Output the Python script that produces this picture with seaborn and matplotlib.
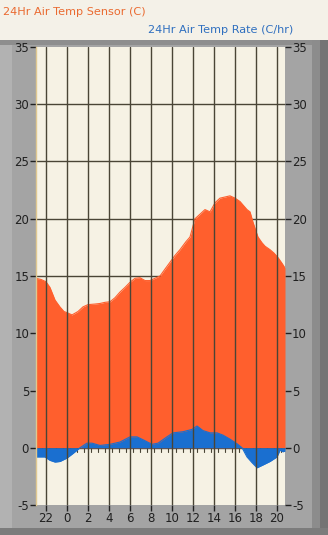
import matplotlib
matplotlib.use("Agg")
import matplotlib.pyplot as plt
import seaborn as sns
import numpy as np
import pandas as pd
from matplotlib.patches import Rectangle

# ---------------- data ----------------
temp_hours = [-2.95, -2.48, -2.0, -1.62, -1.14, -0.67, -0.29, 0.0, 0.48, 1.05, 1.52, 2.0, 2.67,
              3.14, 3.62, 4.1, 4.57, 5.05, 5.52, 6.0, 6.48, 6.95, 7.43, 7.9, 8.38, 8.86, 9.33,
              9.81, 10.29, 10.76, 11.33, 11.71, 12.19, 12.67, 13.14, 13.62, 14.1, 14.57, 15.05,
              15.52, 16.0, 16.48, 16.76, 17.14, 17.43, 17.71, 18.0, 18.19, 18.57, 18.86, 19.33,
              19.71, 20.1, 20.48, 20.76]
temp_values = [14.8, 14.7, 14.5, 14.0, 12.9, 12.3, 11.9, 11.8, 11.6, 11.9, 12.3, 12.5, 12.55,
               12.6, 12.7, 12.75, 13.1, 13.6, 14.0, 14.45, 14.8, 14.85, 14.6, 14.6, 14.8, 15.0, 15.6,
               16.2, 16.8, 17.3, 18.0, 18.4, 20.0, 20.4, 20.8, 20.6, 21.4, 21.8, 21.9,
               22.0, 21.8, 21.5, 21.2, 20.8, 20.6, 19.7, 18.9, 18.4, 17.9, 17.6, 17.3,
               17.0, 16.6, 16.1, 15.7]

rate_hours = [-2.95, -2.1, -1.62, -1.14, -0.67, 0.0, 0.57, 1.24, 1.9, 2.38, 3.14, 4.1, 5.05,
              6.0, 6.67, 7.24, 8.1, 8.67, 9.52, 10.1, 11.05, 11.9, 12.38, 12.95, 13.62, 14.29,
              14.86, 15.52, 16.19, 16.67, 17.14, 17.62, 18.1, 18.67, 19.33, 20.0, 20.29, 20.57, 20.76]
rate_values = [-0.8, -0.8, -1.1, -1.25, -1.2, -0.9, -0.5, 0.0, 0.4, 0.4, 0.2, 0.3, 0.5,
               0.95, 0.95, 0.7, 0.3, 0.4, 0.95, 1.3, 1.4, 1.6, 1.9, 1.5, 1.3, 1.3,
               1.1, 0.75, 0.35, 0.0, -0.8, -1.3, -1.75, -1.5, -1.2, -0.8, -0.2, -0.35, -0.3]

x_tick_pos = [-2, 0, 2, 4, 6, 8, 10, 12, 14, 16, 18, 20]
x_tick_labels = ["22", "0", "2", "4", "6", "8", "10", "12", "14", "16", "18", "20"]
y_ticks = [-5, 0, 5, 10, 15, 20, 25, 30, 35]

title_temp = "24Hr Air Temp Sensor (C)"
title_rate = "24Hr Air Temp Rate (C/hr)"

# ---------------- style ----------------
sns.set_style("white")
plt.rcParams['font.family'] = ['DejaVu Sans']

ORANGE = "#ff5f2d"
BLUE = "#1a6fd0"
CREAM = "#f6f2e4"
GRID = "#4a4536"

W, H = 328, 535
fig = plt.figure(figsize=(W / 100, H / 100), dpi=100)
fig.patch.set_facecolor("#f4f1e8")

# grey panel background
def frect(x0, y0, x1, y1, color):
    fig.patches.append(Rectangle((x0 / W, 1 - y1 / H), (x1 - x0) / W, (y1 - y0) / H,
                                 transform=fig.transFigure, facecolor=color,
                                 edgecolor="none", zorder=-10))

frect(0, 40, 328, 535, "#a4a4a4")
frect(0, 40, 12, 535, "#b2b2b2")
frect(0, 40, 328, 45, "#8e8e8e")
frect(312, 40, 320, 535, "#8c8c8c")
frect(320, 40, 328, 535, "#747474")
frect(0, 528, 328, 535, "#7c7c7c")

ax = fig.add_axes([36 / W, 1 - 505 / H, (285 - 36) / W, (505 - 47) / H])
ax.set_zorder(5)
ax.set_facecolor(CREAM)

df_t = pd.DataFrame({"hour": temp_hours, "temp": temp_values})
df_r = pd.DataFrame({"hour": rate_hours, "rate": rate_values})

# horizontal gridlines behind the fills
for yv in y_ticks[1:-1]:
    ax.axhline(yv, color=GRID, lw=1, zorder=0.5)

ax.fill_between(df_t["hour"], 0, df_t["temp"], color=ORANGE, lw=0, zorder=1)
sns.lineplot(data=df_t, x="hour", y="temp", color=ORANGE, lw=0.8, ax=ax, zorder=1.1)

# small ticks along the zero line
for xv in np.arange(-3, 21.5, 2 / 3):
    ax.plot([xv, xv], [0, -0.4], color=GRID, lw=0.8, zorder=1.5)

ax.fill_between(df_r["hour"], 0, df_r["rate"], color=BLUE, lw=0, zorder=2)
sns.lineplot(data=df_r, x="hour", y="rate", color=BLUE, lw=0.8, ax=ax, zorder=2.1)

# vertical gridlines drawn in front
for xv in x_tick_pos:
    ax.axvline(xv, color=GRID, lw=1, zorder=3)

ax.set_xlim(-2.95, 20.76)
ax.set_ylim(-5, 35)
ax.set_xticks(x_tick_pos)
ax.set_xticklabels(x_tick_labels)
ax.set_yticks(y_ticks)
ax.set_yticklabels([str(v) for v in y_ticks])
ax.set_xlabel("")
ax.set_ylabel("")
ax.tick_params(axis="both", which="major", length=4, width=1, color="#202020",
               labelsize=8.5, labelcolor="#202020", pad=1, direction="out")
ax.tick_params(axis="y", left=True, right=True, labelleft=True, labelright=True)
ax.tick_params(axis="x", bottom=True)
for s in ["top", "right", "bottom"]:
    ax.spines[s].set_visible(False)
ax.spines["left"].set_color("#e0c890")
ax.spines["left"].set_linewidth(1)
ax.grid(False)

fig.text(3 / W, 1 - 12 / H, title_temp, color="#ea6a30", fontsize=8.1,
         ha="left", va="center")
fig.text(293 / W, 1 - 30 / H, title_rate, color="#2f6fbf", fontsize=8.1,
         ha="right", va="center")

fig.savefig("out.png", dpi=100, facecolor=fig.get_facecolor())
